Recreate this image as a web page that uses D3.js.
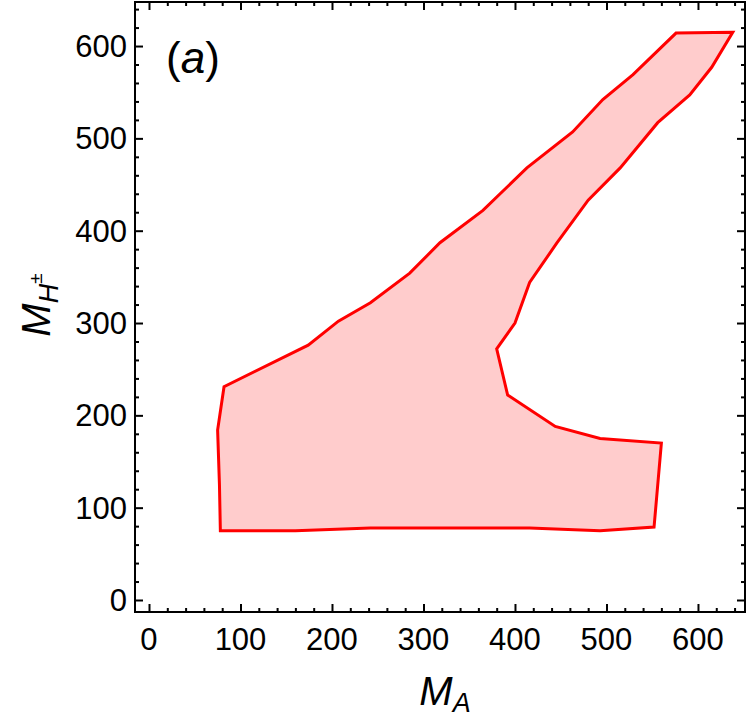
<!DOCTYPE html>
<html>
<head>
<meta charset="utf-8">
<script src="https://cdn.jsdelivr.net/npm/d3@7"></script>
<style>
  body { margin: 0; background: #fff; }
  svg text { font-family: "Liberation Sans", Arial, sans-serif; }
</style>
</head>
<body>
<div id="graf"></div>
<script>
// Region allowed in the (M_A, M_H±) plane
//

// polygon vertices (going round the outline)
mA  = [638, 576, 529, 496, 463, 413, 365, 318, 285, 242, 207, 174, 82, 75, 77, 78,
       160, 242, 416, 493, 552, 560, 493, 444, 392, 380, 400, 416, 446, 480, 515, 556, 591, 615]
mHc = [615, 614, 569, 542, 507, 468, 422, 387, 354, 322, 302, 276, 231, 184, 125, 75,
       75, 78, 78, 75, 79, 170, 175, 188, 222, 272, 300, 344, 387, 433, 468, 517, 547, 577]

xTicks = [0, 100, 200, 300, 400, 500, 600]
yTicks = [0, 100, 200, 300, 400, 500, 600]

ancho_total = 750
alto_total  = 723
margins = { top: 2, left: 135, right: 5, bottom: 111 }
ancho = ancho_total - margins.left - margins.right
alto  = alto_total - margins.top - margins.bottom

svg = d3.select('#graf').append('svg')
        .attr('width', ancho_total)
        .attr('height', alto_total)

g = svg.append('g')
       .attr('transform', `translate(${margins.left}, ${margins.top})`)

// Escaladores
x = d3.scaleLinear().domain([-15.3, 651.4]).range([0, ancho])
y = d3.scaleLinear().domain([-13, 647.7]).range([alto, 0])

// región
puntos = mA.map((v, i) => [x(v), y(mHc[i])])
g.append('path')
  .attr('d', d3.line()(puntos) + 'Z')
  .attr('fill', '#ffcccc')
  .attr('stroke', '#ff0000')
  .attr('stroke-width', 3)
  .attr('stroke-linejoin', 'miter')

// ticks (inward, on all four sides)
minorX = d3.range(0, 641, 20).filter(v => v % 100 != 0)
minorY = d3.range(0, 641, 20).filter(v => v % 100 != 0)

function ticks(axisGen, scale, major, minor, transform) {
  g.append('g').attr('transform', transform)
    .call(axisGen(scale).tickValues(major).tickSize(-8).tickFormat(''))
    .call(a => a.select('.domain').remove())
    .call(a => a.selectAll('line').attr('stroke', '#000').attr('stroke-width', 2))
  g.append('g').attr('transform', transform)
    .call(axisGen(scale).tickValues(minor).tickSize(-4).tickFormat(''))
    .call(a => a.select('.domain').remove())
    .call(a => a.selectAll('line').attr('stroke', '#000').attr('stroke-width', 2))
}
ticks(d3.axisBottom, x, xTicks, minorX, `translate(0, ${alto})`)
ticks(d3.axisTop, x, xTicks, minorX, 'translate(0, 0)')
ticks(d3.axisLeft, y, yTicks, minorY, 'translate(0, 0)')
ticks(d3.axisRight, y, yTicks, minorY, `translate(${ancho}, 0)`)

// marco
g.append('rect')
  .attr('width', ancho).attr('height', alto)
  .attr('fill', 'none').attr('stroke', '#000').attr('stroke-width', 2)

// etiquetas de ticks
g.selectAll('.xl').data(xTicks).enter().append('text')
  .attr('x', d => x(d)).attr('y', alto + 38)
  .attr('text-anchor', 'middle').attr('font-size', 31)
  .text(d => d)
g.selectAll('.yl').data(yTicks).enter().append('text')
  .attr('x', -8).attr('y', d => y(d) + 11)
  .attr('text-anchor', 'end').attr('font-size', 31)
  .text(d => d)

// títulos de ejes
xt = svg.append('text')
  .attr('x', 445).attr('y', 705)
  .attr('text-anchor', 'middle').attr('font-size', 40).attr('font-style', 'italic')
xt.append('tspan').text('M')
xt.append('tspan').attr('font-size', 27).attr('dy', 7).text('A')

yt = svg.append('text')
  .attr('transform', 'translate(50, 305) rotate(-90)')
  .attr('text-anchor', 'middle').attr('font-size', 40).attr('font-style', 'italic')
yt.append('tspan').text('M')
yt.append('tspan').attr('font-size', 27).attr('dy', 8).text('H')
yt.append('tspan').attr('font-size', 19).attr('dy', -16).attr('font-style', 'normal').text('±')

// etiqueta (a)
lab = svg.append('text').attr('x', 166).attr('y', 73).attr('font-size', 44)
lab.append('tspan').text('(')
lab.append('tspan').attr('font-style', 'italic').text('a')
lab.append('tspan').text(')')
</script>
</body>
</html>
